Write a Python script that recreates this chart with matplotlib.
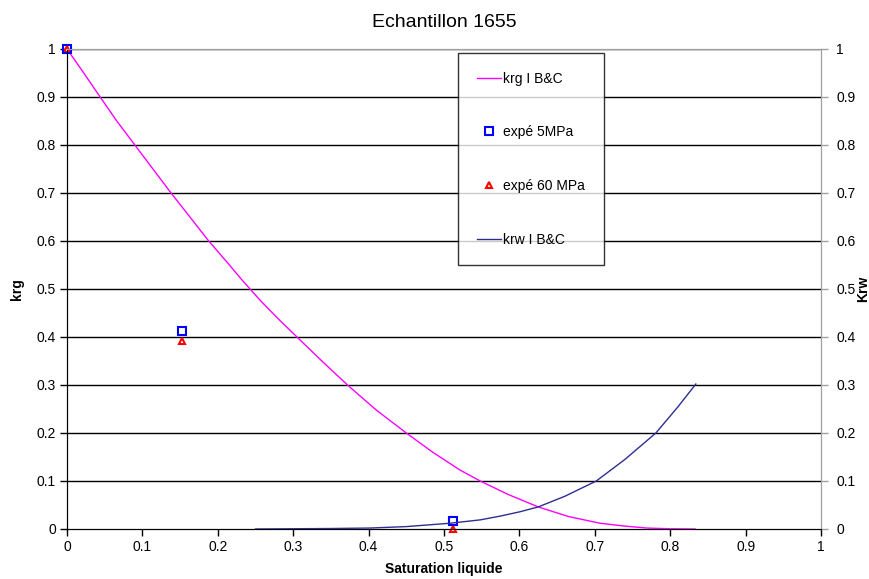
import matplotlib
matplotlib.use("Agg")
import matplotlib.pyplot as plt

plt.rcParams['font.family'] = ['Liberation Sans', 'DejaVu Sans']

# krg (Brooks & Corey)
krg_x = [0.0, 0.02, 0.044, 0.066, 0.090, 0.114, 0.138, 0.163, 0.188, 0.21, 0.232,
         0.257, 0.282, 0.305, 0.338, 0.372, 0.41, 0.450, 0.485, 0.521, 0.548,
         0.585, 0.625, 0.665, 0.707, 0.74, 0.769, 0.80, 0.833]
krg_y = [1.0, 0.955, 0.90, 0.85, 0.80, 0.75, 0.70, 0.65, 0.60, 0.56, 0.519,
         0.475, 0.435, 0.40, 0.35, 0.30, 0.248, 0.20, 0.16, 0.123, 0.10,
         0.072, 0.046, 0.026, 0.012, 0.006, 0.002, 0.0005, 0.0]

# krw (Brooks & Corey)
krw_x = [0.25, 0.30, 0.35, 0.402, 0.45, 0.508, 0.548, 0.575, 0.601, 0.625, 0.66,
         0.702, 0.74, 0.781, 0.81, 0.834]
krw_y = [0.0, 0.0005, 0.001, 0.002, 0.005, 0.012, 0.019, 0.027, 0.036, 0.046, 0.068,
         0.10, 0.145, 0.20, 0.254, 0.302]

# experimental points
exp5_x = [0.0, 0.152, 0.512]
exp5_y = [1.0, 0.4125, 0.017]
exp60_x = [0.0, 0.152, 0.512]
exp60_y = [1.0, 0.392, 0.0]

ticks = [0, 0.1, 0.2, 0.3, 0.4, 0.5, 0.6, 0.7, 0.8, 0.9, 1]
tick_labels = ['0', '0.1', '0.2', '0.3', '0.4', '0.5', '0.6', '0.7', '0.8', '0.9', '1']

W, H = 870, 579
fig = plt.figure(figsize=(W / 100, H / 100), dpi=100)
L, R, T, B = 67, 821, 49, 529
ax = fig.add_axes([L / W, 1 - B / H, (R - L) / W, (B - T) / H])
ax.set_xlim(0, 1)
ax.set_ylim(0, 1)

for t in ticks[1:]:
    ax.axhline(t, color='black', lw=1, zorder=1)

l1, = ax.plot(krg_x, krg_y, color='#ff00ff', lw=1, zorder=3, label='krg I B&C')
m1, = ax.plot(exp5_x, exp5_y, ls='none', marker='s', ms=5.5, mfc='none',
              mec='#0000ff', mew=1.5, zorder=5, label='expé 5MPa', clip_on=False)
m2, = ax.plot(exp60_x, exp60_y, ls='none', marker='^', ms=5, mfc='white',
              mec='#ff0000', mew=1.5, zorder=4, label='expé 60 MPa', clip_on=False)

ax2 = ax.twinx()
ax2.set_ylim(0, 1)
l2, = ax2.plot(krw_x, krw_y, color='#2e2e90', lw=1, zorder=3, label='krw I B&C')

for a in (ax, ax2):
    a.spines['top'].set_color('#a0a0a0')
    a.spines['right'].set_color('#a0a0a0')
    a.spines['left'].set_color('black')
    a.spines['bottom'].set_color('black')

ax.set_xticks(ticks)
ax.set_xticklabels(tick_labels, fontsize=10)
ax.set_yticks(ticks)
ax.set_yticklabels(tick_labels, fontsize=10)
ax2.set_yticks(ticks)
ax2.set_yticklabels(tick_labels, fontsize=10)
ax.tick_params(axis='both', direction='out', length=5, width=1, color='black', pad=3)
ax2.tick_params(axis='y', direction='out', length=5, width=1, color='#a0a0a0', pad=6)

ax.set_xlabel('Saturation liquide', fontsize=10, fontweight='bold')
ax.xaxis.set_label_coords(0.5, -33 / 480)
ax.set_ylabel('krg', fontsize=10, fontweight='bold')
ax.yaxis.set_label_coords(-43 / 754, 0.5)
ax2.set_ylabel('Krw', fontsize=10, fontweight='bold', rotation=90)
ax2.yaxis.set_label_coords((856 - 67) / 754, 0.5)
ax.set_title('Echantillon 1655', fontsize=14, pad=16)

handles = [l1, m1, m2, l2]
leg = fig.legend(handles, [h.get_label() for h in handles],
                 loc='upper left', bbox_to_anchor=(458 / W, 1 - 53 / H),
                 fontsize=10, frameon=True, fancybox=False, shadow=False,
                 labelspacing=2.85, handlelength=1.75, handletextpad=0.15,
                 borderpad=1.35, borderaxespad=0)
leg.get_frame().set_edgecolor('black')
leg.get_frame().set_linewidth(1)
leg.set_zorder(10)

fig.savefig('out.png', dpi=100)
